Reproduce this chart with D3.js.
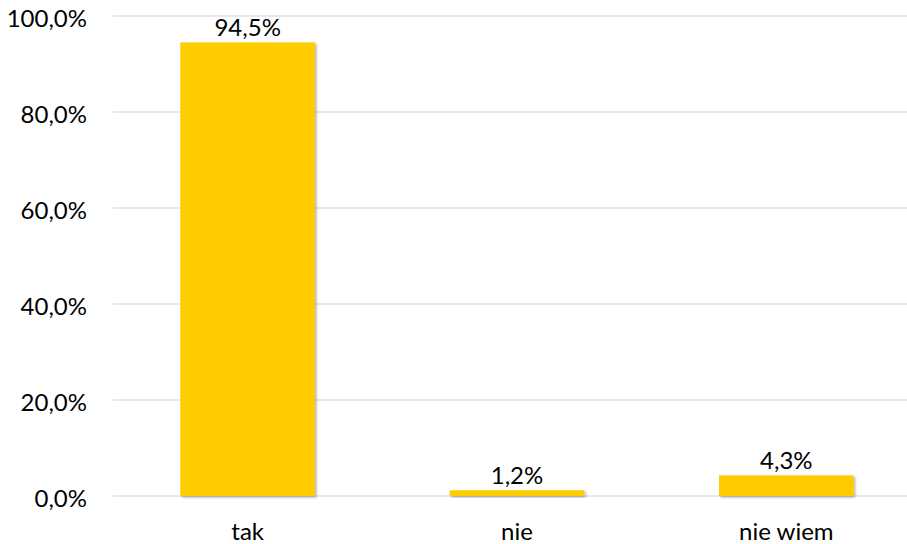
<!DOCTYPE html>
<html>
<head>
<meta charset="utf-8">
<script src="https://cdn.jsdelivr.net/npm/d3@7/dist/d3.min.js"></script>
<style>
  html, body { margin: 0; padding: 0; background: #ffffff; }
  svg { display: block; }
  text { font-family: Lato, "Open Sans", sans-serif; fill: #000; }
</style>
</head>
<body>
<svg id="chart" width="907" height="544"></svg>
<script>
// Answer categories and their shares (percent)
const categories = ["tak", "nie", "nie wiem"];
const values = [94.5, 1.2, 4.3];
const yTicks = [0, 20, 40, 60, 80, 100];

const width = 907, height = 544;
const margin = { left: 113, right: -14, top: 16, bottom: 48 };
const fontSize = 24;

const svg = d3.select("#chart");

// Soft drop shadow under the bars
const defs = svg.append("defs");
const shadow = defs.append("filter")
  .attr("id", "barShadow")
  .attr("x", "-10%").attr("y", "-10%")
  .attr("width", "130%").attr("height", "130%");
shadow.append("feDropShadow")
  .attr("dx", 1.5).attr("dy", 1.5)
  .attr("stdDeviation", 1.3)
  .attr("flood-color", "#000")
  .attr("flood-opacity", 0.3);

const x = d3.scaleBand()
  .domain(categories)
  .range([margin.left, width - margin.right])
  .paddingInner(0.5)
  .paddingOuter(0.25);

const y = d3.scaleLinear()
  .domain([0, 100])
  .range([height - margin.bottom, margin.top]);

const fmt = v => d3.format(".1f")(v).replace(".", ",") + "%";

// Horizontal gridlines
svg.append("g")
  .selectAll("line")
  .data(yTicks)
  .join("line")
  .attr("x1", margin.left)
  .attr("x2", width)
  .attr("y1", d => y(d))
  .attr("y2", d => y(d))
  .attr("stroke", "#DCE0EB")
  .attr("stroke-width", 1.6);

// Value axis labels
svg.append("g")
  .selectAll("text")
  .data(yTicks)
  .join("text")
  .attr("x", 87)
  .attr("y", d => y(d) + 5)
  .attr("text-anchor", "end")
  .attr("dominant-baseline", "middle")
  .attr("font-size", fontSize)
  .text(d => fmt(d));

// Bars
svg.append("g")
  .selectAll("rect")
  .data(values)
  .join("rect")
  .attr("x", (d, i) => x(categories[i]))
  .attr("width", x.bandwidth())
  .attr("y", d => y(d))
  .attr("height", d => y(0) - y(d))
  .attr("fill", "#FFCC00")
  .attr("filter", "url(#barShadow)");

// Value labels above bars
svg.append("g")
  .selectAll("text")
  .data(values)
  .join("text")
  .attr("x", (d, i) => x(categories[i]) + x.bandwidth() / 2)
  .attr("y", d => y(d) - 6)
  .attr("text-anchor", "middle")
  .attr("font-size", fontSize)
  .text(d => fmt(d));

// Category labels
svg.append("g")
  .selectAll("text")
  .data(categories)
  .join("text")
  .attr("x", d => x(d) + x.bandwidth() / 2)
  .attr("y", 540)
  .attr("text-anchor", "middle")
  .attr("font-size", fontSize)
  .text(d => d);
</script>
</body>
</html>
